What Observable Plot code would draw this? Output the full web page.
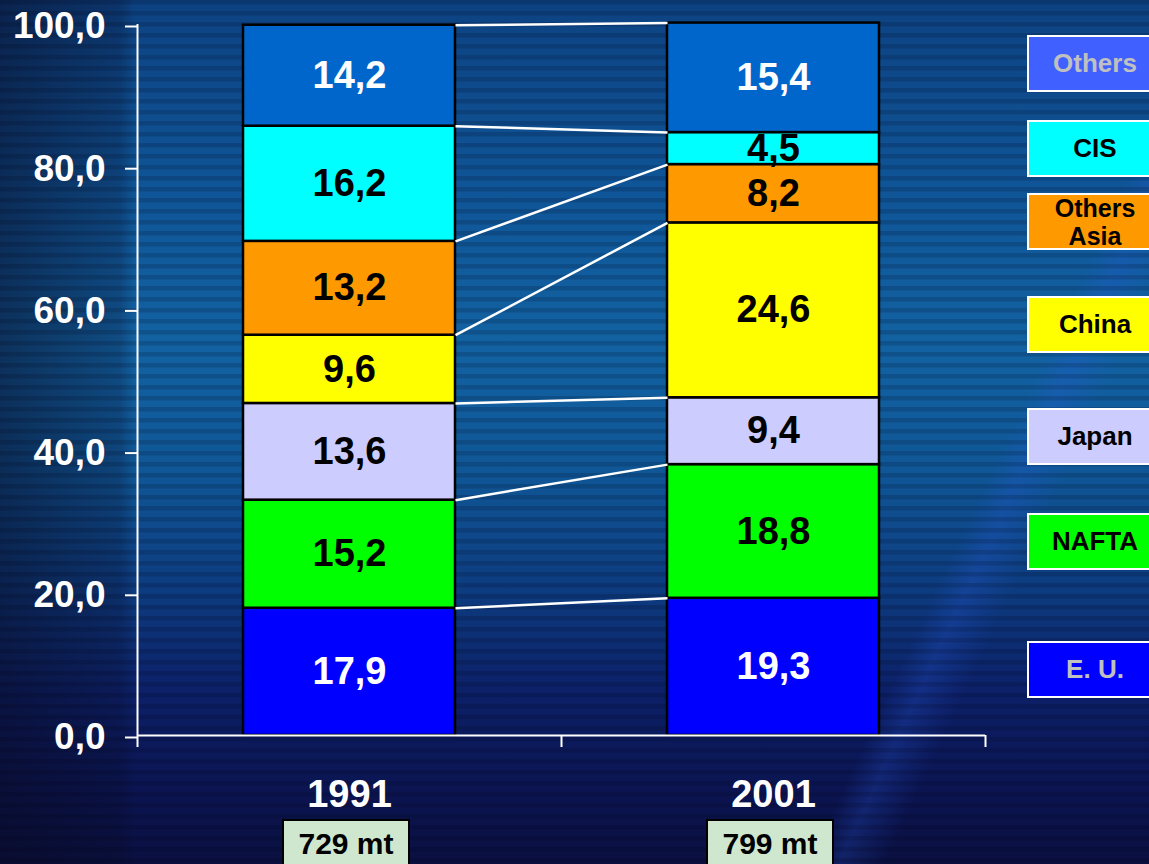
<!DOCTYPE html>
<html>
<head>
<meta charset="utf-8">
<script src="https://cdn.jsdelivr.net/npm/d3@7"></script>
<script src="https://cdn.jsdelivr.net/npm/@observablehq/plot@0.6"></script>
<style>
  html, body { margin: 0; padding: 0; background: #0c1248; }
  #wrap {
    position: relative; width: 1149px; height: 864px; overflow: hidden;
    font-family: "Liberation Sans", Arial, sans-serif; font-weight: bold;
    background:
      repeating-linear-gradient(to bottom, rgba(0,0,20,0.16) 0px, rgba(0,0,20,0.16) 4px, rgba(255,255,255,0) 5px, rgba(255,255,255,0) 11px),
      linear-gradient(to right, rgba(8,10,35,0.55) 0px, rgba(8,10,35,0.25) 120px, rgba(8,10,35,0) 135px),
      linear-gradient(115deg, rgba(0,0,0,0) 78%, rgba(40,90,220,0.25) 80%, rgba(0,0,0,0) 83%),
      linear-gradient(to bottom, #0d4282 0%, #0f5597 22%, #1262a2 40%, #0f5696 55%, #0d3c80 68%, #0c2068 80%, #0b1450 92%, #0a1040 100%);
  }
  #wrap svg { position: absolute; left: 0; top: 0; }
  .leg {
    position: absolute; left: 1027px; width: 132px; height: 53px;
    border: 2px solid #ffffff; box-sizing: content-box;
    display: flex; align-items: center; justify-content: center; text-align: center;
    font-size: 26px; line-height: 27px;
  }
  .leg.two { font-size: 25px; line-height: 28px; }
  .leg span { display: block; width: 122px; text-align: center; }
  .tot {
    position: absolute; top: 819px; width: 124px; height: 50px;
    border: 2px solid #000; background: #cfe6cf;
    font-size: 30px; color: #000; text-align: center; line-height: 46px;
  }
</style>
</head>
<body>
<div id="wrap"></div>
<script>
// ---- data ----
const years = ["1991", "2001"];
const totals = ["729 mt", "799 mt"];
const regions = ["E. U.", "NAFTA", "Japan", "China", "Others Asia", "CIS", "Others"];
const values1991 = [17.9, 15.2, 13.6, 9.6, 13.2, 16.2, 14.2];
const values2001 = [19.3, 18.8, 9.4, 24.6, 8.2, 4.5, 15.4];
const yTicks = [0, 20, 40, 60, 80, 100];

// ---- styles ----
const barColors = ["#0000ff", "#00ff00", "#ccccff", "#ffff00", "#ff9900", "#00ffff", "#0066cc"];
const barLabelColors = ["#ffffff", "#000000", "#000000", "#000000", "#000000", "#000000", "#ffffff"];
const legendColors = ["#0000ff", "#00ff00", "#ccccff", "#ffff00", "#ff9900", "#00ffff", "#4060ff"];
const legendTextColors = ["#c0c0c0", "#000000", "#000000", "#000000", "#000000", "#000000", "#c0c0c0"];
const legendTop = [641, 513, 408, 296, 193, 120, 35];

// ---- derived table ----
const series = [values1991, values2001];
const rows = [];
series.forEach((vals, i) => {
  let acc = 0;
  vals.forEach((v, k) => {
    rows.push({i, k, region: regions[k], value: v, y1: acc, y2: acc + v});
    acc += v;
  });
});
const links = regions.map((r, k) => ({
  a: rows.find(d => d.i === 0 && d.k === k).y2,
  b: rows.find(d => d.i === 1 && d.k === k).y2
}));
const fmt = v => v.toFixed(1).replace(".", ",");
const font = "Liberation Sans, Arial, sans-serif";

const chart = Plot.plot({
  width: 1149,
  height: 864,
  marginLeft: 137,
  marginRight: 164,
  marginTop: 24,
  marginBottom: 129,
  style: {background: "transparent", overflow: "visible", fontFamily: font},
  x: {type: "linear", domain: [0, 2], axis: null},
  y: {domain: [0, 100], axis: null},
  marks: [
    Plot.rect(rows, {
      x1: d => d.i + 0.25, x2: d => d.i + 0.75, y1: "y1", y2: "y2",
      fill: d => barColors[d.k], stroke: "#000", strokeWidth: 2.5
    }),
    Plot.link(links, {x1: () => 0.75, x2: () => 1.25, y1: "a", y2: "b", stroke: "#fff", strokeWidth: 2.5}),
    Plot.text(rows, {
      x: d => d.i + 0.5, y: d => (d.y1 + d.y2) / 2, text: d => fmt(d.value),
      fill: d => barLabelColors[d.k], fontSize: 38, fontWeight: "bold", fontFamily: font
    }),
    Plot.ruleX([0], {y1: 0, y2: 100, stroke: "#fff", strokeWidth: 2}),
    Plot.ruleY([0], {x1: 0, x2: 2, stroke: "#fff", strokeWidth: 2}),
    Plot.axisY(yTicks, {
      tickFormat: fmt, tickSize: 12, tickPadding: 20, fontSize: 37, fontWeight: "bold",
      color: "#fff", stroke: "#fff", strokeWidth: 2, fontFamily: font, dy: 2
    }),
    Plot.axisX([0, 1, 2], {tickSize: 12, tickFormat: () => "", stroke: "#fff", strokeWidth: 2, color: "#fff"}),
    Plot.axisX([0.5, 1.5], {
      tickSize: 0, tickPadding: 45, tickFormat: d => years[Math.floor(d)],
      fontSize: 38, fontWeight: "bold", color: "#fff", fill: "#fff", fontFamily: font
    })
  ]
});

const wrap = document.getElementById("wrap");
wrap.appendChild(chart);

const xs = chart.scale("x");
years.forEach((y, i) => {
  const d = document.createElement("div");
  d.className = "tot";
  d.textContent = totals[i];
  d.style.left = (xs.apply(i + 0.5) - 67) + "px";
  wrap.appendChild(d);
});

regions.forEach((r, k) => {
  const d = document.createElement("div");
  d.className = "leg";
  d.style.top = legendTop[k] + "px";
  d.style.background = legendColors[k];
  d.style.color = legendTextColors[k];
  const s = document.createElement("span");
  if (r === "Others Asia") {
    d.classList.add("two");
    s.innerHTML = "Others<br>Asia";
  } else {
    s.textContent = r;
  }
  d.appendChild(s);
  wrap.appendChild(d);
});
</script>
</body>
</html>
